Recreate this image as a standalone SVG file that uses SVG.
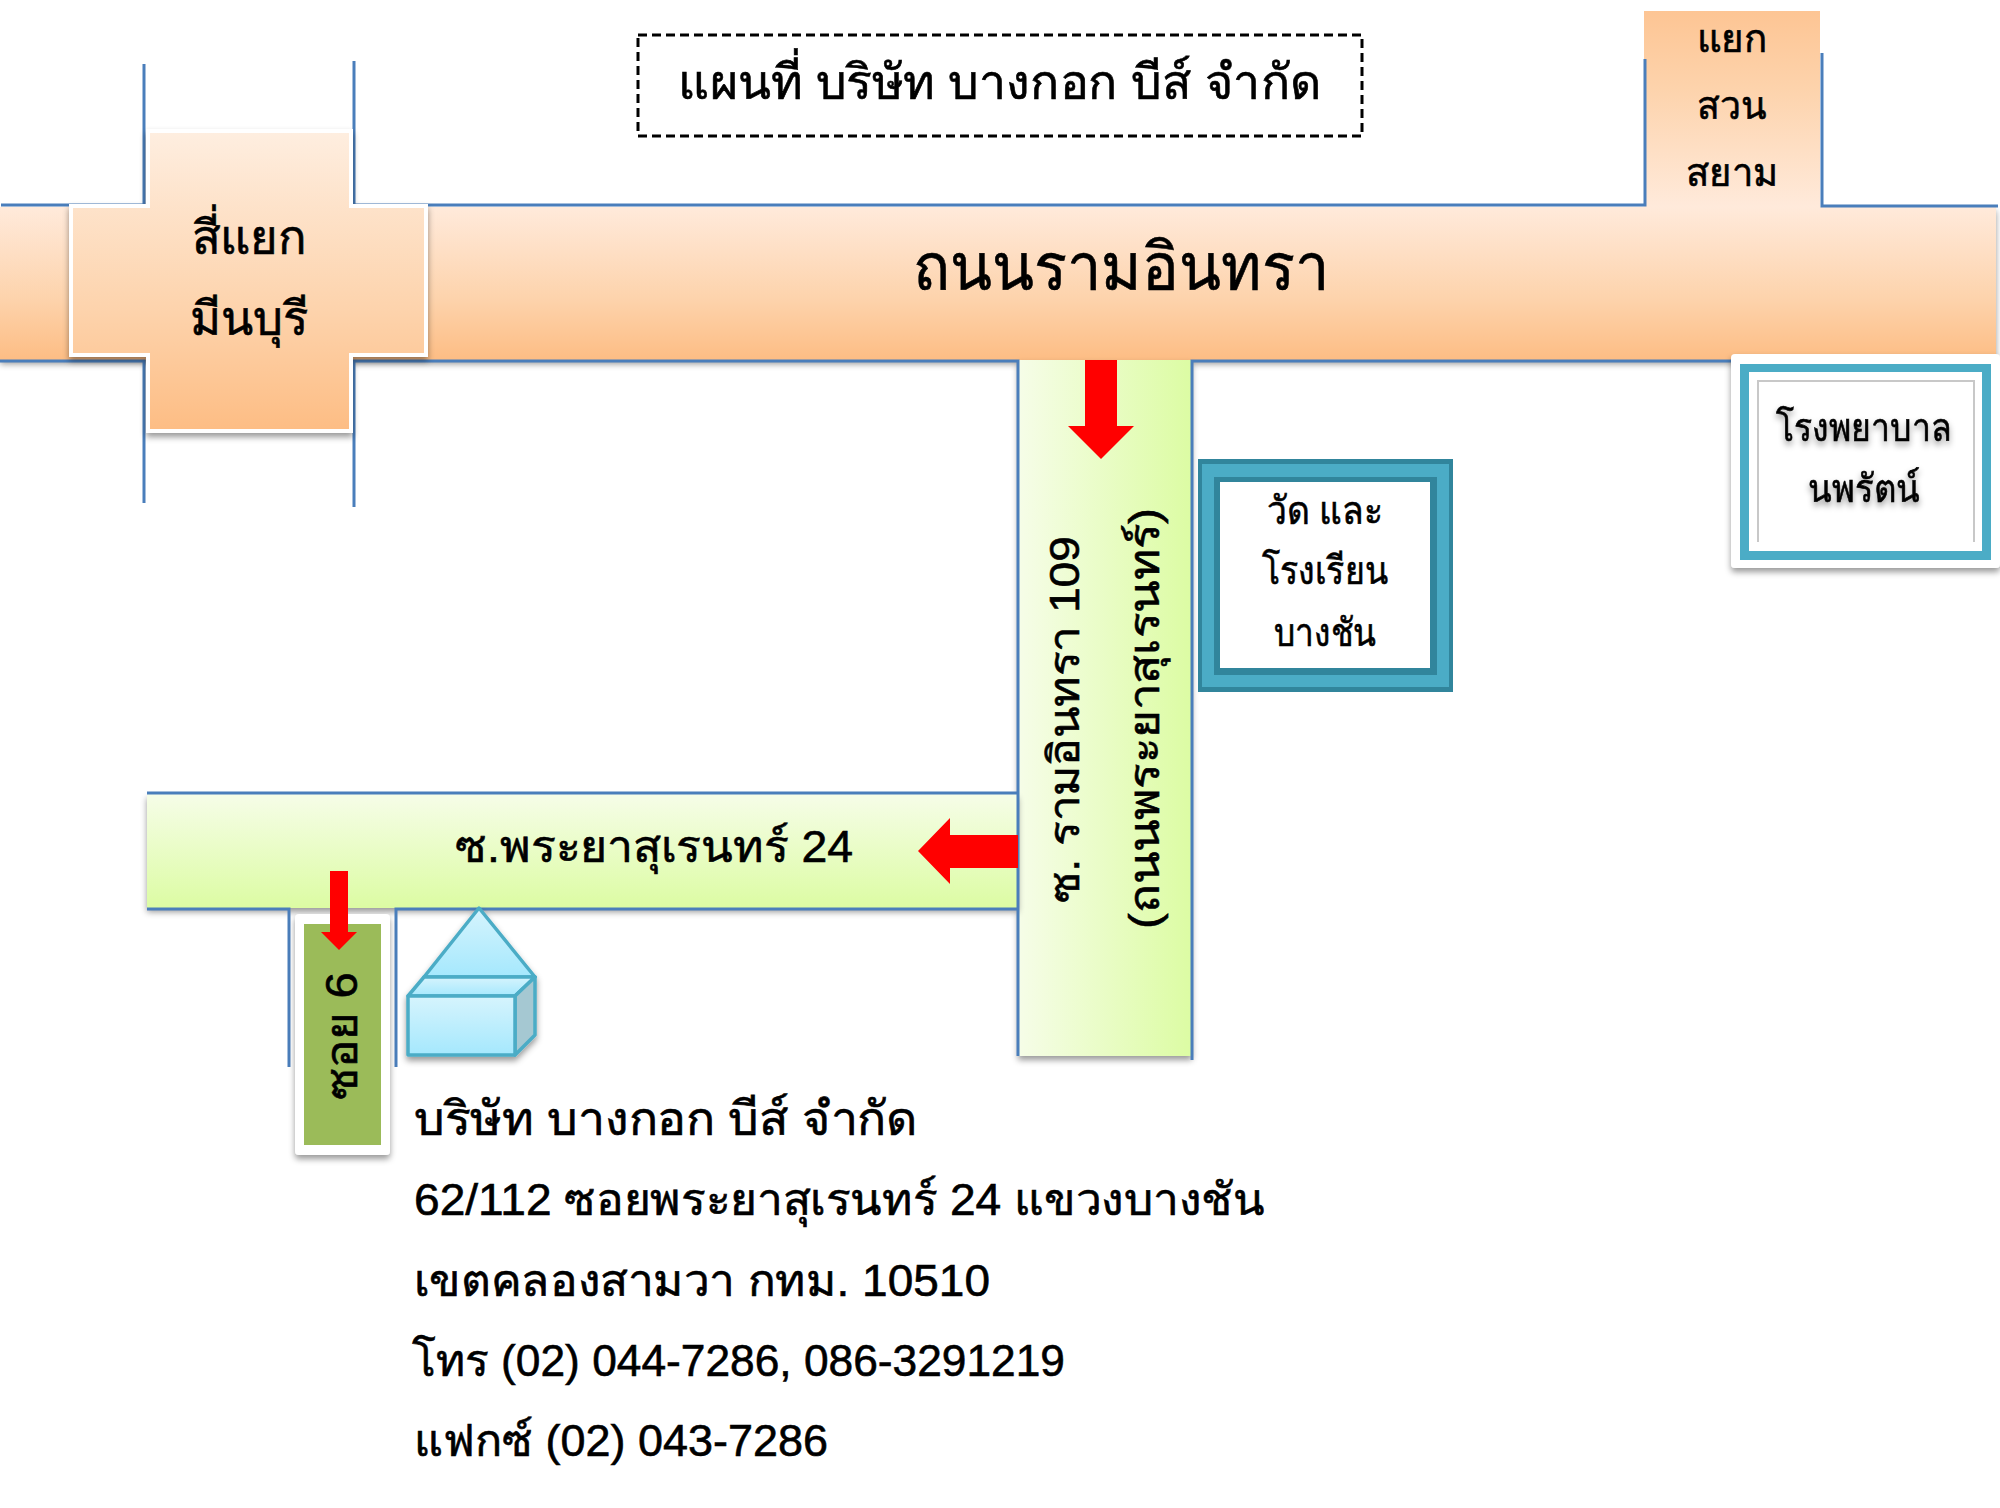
<svg xmlns="http://www.w3.org/2000/svg" width="2000" height="1508" viewBox="0 0 2000 1508">
<defs>
<linearGradient id="o" x1="0" y1="0" x2="0" y2="1"><stop offset="0" stop-color="#ffeadb"/><stop offset=".6" stop-color="#fdd3ac"/><stop offset="1" stop-color="#fdbd84"/></linearGradient>
<linearGradient id="oc" gradientUnits="userSpaceOnUse" x1="0" y1="131" x2="0" y2="430"><stop offset="0" stop-color="#feeee0"/><stop offset=".6" stop-color="#fdd3ac"/><stop offset="1" stop-color="#fdbd84"/></linearGradient>
<linearGradient id="or" x1="0" y1="1" x2="0" y2="0"><stop offset="0" stop-color="#ffeadb"/><stop offset=".6" stop-color="#fdd3ac"/><stop offset="1" stop-color="#fdc594"/></linearGradient>
<linearGradient id="g" x1="0" y1="0" x2="0" y2="1"><stop offset="0" stop-color="#f6fde8"/><stop offset="1" stop-color="#dcfca3"/></linearGradient>
<linearGradient id="gv" x1="0" y1="0" x2="1" y2="0"><stop offset="0" stop-color="#f6fde8"/><stop offset="1" stop-color="#dcfca3"/></linearGradient>
<linearGradient id="b" x1="0" y1="0" x2="0" y2="1"><stop offset="0" stop-color="#d6f4fd"/><stop offset="1" stop-color="#a5e8fd"/></linearGradient>
<filter id="s" x="-10%" y="-10%" width="120%" height="125%"><feDropShadow dx="0" dy="4" stdDeviation="3" flood-color="#000" flood-opacity=".4"/></filter>
</defs>
<style>
text{font-family:"Liberation Sans","Noto Sans",sans-serif;fill:#000;text-anchor:middle;stroke:#000;stroke-width:.6}
.l{text-anchor:start}
.r{stroke:#4a7ebb;stroke-width:3;fill:none}
.h{fill:#ff0000}
.k{fill:#4bacc6;stroke:none}
.d{fill:#31859c}
.f{fill:url(#b);stroke:#4bacc6;stroke-width:3.5;stroke-linejoin:round}
</style>
<rect width="2000" height="1508" fill="#fff"/>
<g id="road-main"><rect x="0" y="207" width="1996" height="153" fill="url(#o)" filter="url(#s)"/>
<text x="1121" y="290" font-size="66" textLength="416" lengthAdjust="spacingAndGlyphs">ถนนรามอินทรา</text></g>
<g id="junction-siam"><rect x="1644" y="11" width="176" height="196" fill="url(#or)"/>
<text x="1732" y="52" font-size="39" textLength="71" lengthAdjust="spacingAndGlyphs">แยก</text><text x="1732" y="119" font-size="39" textLength="70" lengthAdjust="spacingAndGlyphs">สวน</text><text x="1732" y="186" font-size="39" textLength="93" lengthAdjust="spacingAndGlyphs">สยาม</text></g>
<g id="road-ramintra109"><rect x="1018" y="360" width="174" height="696" fill="url(#gv)" filter="url(#s)"/>
<text transform="translate(1079 719.5) rotate(-90)" x="0" y="0" font-size="43" textLength="367" lengthAdjust="spacingAndGlyphs">ซ. รามอินทรา 109</text>
<text transform="translate(1159 718.5) rotate(-90)" x="0" y="0" font-size="43" textLength="421" lengthAdjust="spacingAndGlyphs">(ถนนพระยาสุเรนทร์)</text></g>
<g id="road-soi24"><rect x="147" y="794" width="871" height="114" fill="url(#g)" filter="url(#s)"/>
<text x="654" y="862" font-size="45" textLength="398" lengthAdjust="spacingAndGlyphs">ซ.พระยาสุเรนทร์ 24</text></g>
<g id="connectors">
<path class="r" d="M1 205H144V64M354 61V205H1645V59M1822 53V206H1998M0 361H144V503M354 507V361H1018V1056M1192 1060V361H1998"/>
<path class="r" d="M147 793H1018M147 909H289V1067M396 1067V909H1018"/>
</g>
<g id="junction-minburi"><path d="M148 131H351V206H426V355H351V431H148V355H71V206H148Z" fill="url(#oc)" stroke="#fff" stroke-width="4" filter="url(#s)"/>
<text x="249" y="254" font-size="48" textLength="115" lengthAdjust="spacingAndGlyphs">สี่แยก</text><text x="249" y="335" font-size="48" textLength="119" lengthAdjust="spacingAndGlyphs">มีนบุรี</text></g>
<g id="title"><rect x="638" y="35" width="724" height="101" fill="#fff" stroke="#000" stroke-width="3" stroke-dasharray="9 5"/>
<text x="1000" y="99" font-size="49" textLength="644" lengthAdjust="spacingAndGlyphs">แผนที่ บริษัท บางกอก บีส์ จำกัด</text></g>
<g id="temple"><rect x="1198" y="459" width="255" height="233" class="d"/><rect x="1202" y="464" width="247" height="223" class="k"/><rect x="1214" y="477" width="223" height="198" class="d"/><rect x="1220" y="482" width="210" height="186" fill="#fff"/>
<text x="1325" y="524" font-size="39" textLength="116" lengthAdjust="spacingAndGlyphs">วัด และ</text><text x="1325" y="584" font-size="39" textLength="126" lengthAdjust="spacingAndGlyphs">โรงเรียน</text><text x="1325" y="646" font-size="39" textLength="102" lengthAdjust="spacingAndGlyphs">บางชัน</text></g>
<g id="hospital"><rect x="1731" y="354" width="269" height="214" rx="4" fill="#fff" filter="url(#s)"/><rect x="1740" y="364" width="251" height="196" class="k"/><rect x="1749" y="372" width="233" height="179" fill="#fff"/><path d="M1758 542V381H1974V542" fill="none" stroke="#c8c8c8" stroke-width="2"/>
<text x="1864" y="441" font-size="39" textLength="176" lengthAdjust="spacingAndGlyphs" filter="url(#s)">โรงพยาบาล</text><text x="1864" y="502" font-size="39" textLength="112" lengthAdjust="spacingAndGlyphs" filter="url(#s)">นพรัตน์</text></g>
<g id="soi6"><rect x="295" y="914" width="95" height="241" rx="4" fill="#fff" filter="url(#s)"/><rect x="304" y="924" width="77" height="221" fill="#9bbb59"/>
<text transform="translate(357 1036) rotate(-90)" x="0" y="0" font-size="44" textLength="128" lengthAdjust="spacingAndGlyphs">ซอย 6</text></g>
<g id="company-building" filter="url(#s)"><path class="f" d="M479 908L535 977H424Z"/><path class="f" d="M408 996L424 977H535L515 996Z"/><path d="M515 996L535 977V1035L515 1055Z" fill="#a5c8d2" stroke="#4bacc6" stroke-width="3.5" stroke-linejoin="round"/><rect class="f" x="408" y="996" width="107" height="59"/></g>
<g id="arrows">
<path class="h" d="M1085 360H1117V426H1134L1101 459L1068 426H1085Z"/>
<path class="h" d="M1018 835V868H950V884L918 851L950 818V835Z"/>
<path class="h" d="M330 871H348V932H357L339 950L321 932H330Z"/>
</g>
<g id="address">
<text class="l" x="414" y="1135" font-size="47" textLength="504" lengthAdjust="spacingAndGlyphs">บริษัท บางกอก บีส์ จำกัด</text>
<text class="l" x="414" y="1215" font-size="45" textLength="851" lengthAdjust="spacingAndGlyphs">62/112 ซอยพระยาสุเรนทร์ 24 แขวงบางชัน</text>
<text class="l" x="414" y="1296" font-size="45" textLength="576" lengthAdjust="spacingAndGlyphs">เขตคลองสามวา กทม. 10510</text>
<text class="l" x="412" y="1376" font-size="45" textLength="653" lengthAdjust="spacingAndGlyphs">โทร (02) 044-7286, 086-3291219</text>
<text class="l" x="414" y="1456" font-size="45" textLength="414" lengthAdjust="spacingAndGlyphs">แฟกซ์ (02) 043-7286</text>
</g>
</svg>
